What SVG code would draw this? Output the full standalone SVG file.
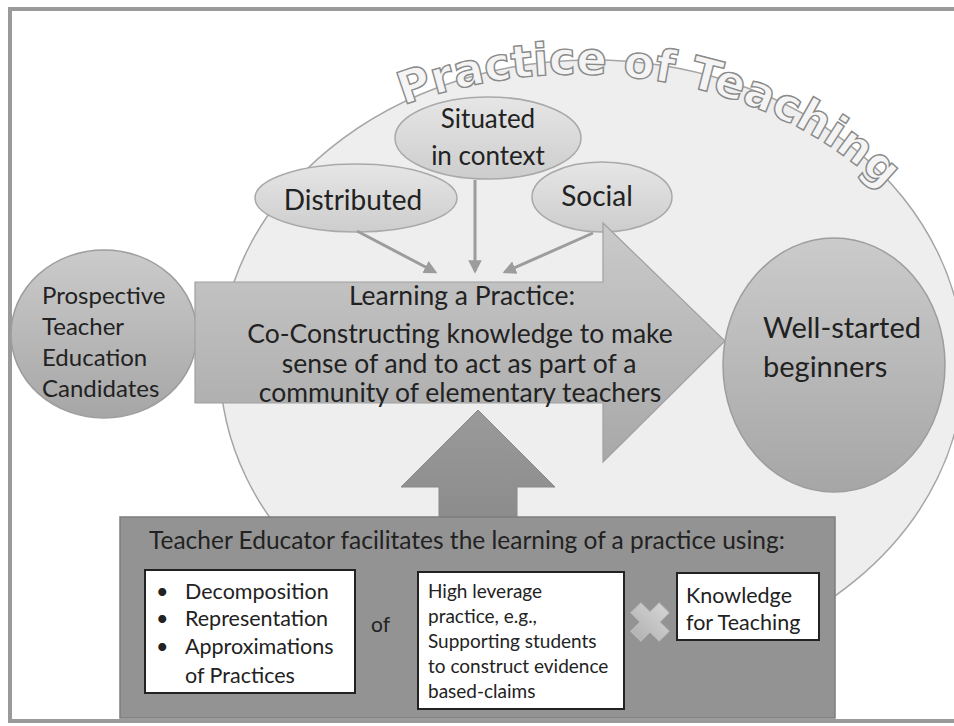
<svg xmlns="http://www.w3.org/2000/svg" width="954" height="726" viewBox="0 0 954 726">
<defs>
<style>
.t{font-family:Lato,"Liberation Sans",sans-serif;fill:#222;}
.conn{stroke:#9c9c9c;stroke-width:3;fill:none;}
.oval{stroke:#a9a9a9;stroke-width:1.5;}
.wbox{fill:#fff;stroke:#222;stroke-width:2;}
</style>
<linearGradient id="gOval" x1="0" y1="0" x2="0" y2="1"><stop offset="0" stop-color="#e6e6e6"/><stop offset="1" stop-color="#cdcdcd"/></linearGradient>
<linearGradient id="gCirc" x1="0" y1="0" x2="0" y2="1"><stop offset="0" stop-color="#cbcbcb"/><stop offset="1" stop-color="#a6a6a6"/></linearGradient>
<linearGradient id="gArrow" gradientUnits="userSpaceOnUse" x1="0" y1="222" x2="0" y2="462"><stop offset="0" stop-color="#cacaca"/><stop offset="1" stop-color="#a8a8a8"/></linearGradient>
<linearGradient id="gUp" x1="0" y1="0" x2="0" y2="1"><stop offset="0" stop-color="#9a9a9a"/><stop offset="1" stop-color="#8c8c8c"/></linearGradient>
<linearGradient id="gX" x1="0" y1="0" x2="0" y2="1"><stop offset="0" stop-color="#d2d2d2"/><stop offset="1" stop-color="#b4b4b4"/></linearGradient>
<marker id="ah" viewBox="0 0 10 10" refX="8" refY="5" markerWidth="4.5" markerHeight="4.5" orient="auto"><path d="M0,0 L10,5 L0,10 Z" fill="#9c9c9c"/></marker>
<path id="arcT" d="M402,106 A390,300 0 0 1 914,224"/>
</defs>

<rect x="10" y="9" width="960" height="712" fill="#fff" stroke="#9a9a9a" stroke-width="4"/>

<g id="practice-of-teaching">
<ellipse cx="592" cy="365" rx="372" ry="305" fill="#eeeeee" stroke="#a5a5a5" stroke-width="1.5"/>
<text font-family="'DejaVu Sans',sans-serif" font-weight="bold" font-size="45" fill="#f4f4f4" stroke="#8a8a8a" stroke-width="1.4"><textPath href="#arcT" startOffset="2">Practice of Teaching</textPath></text>
</g>

<g id="situated">
<ellipse class="oval" cx="488" cy="138" rx="93" ry="41" fill="url(#gOval)"/>
<text class="t" font-size="26" text-anchor="middle" x="488" y="128">Situated</text>
<text class="t" font-size="26" text-anchor="middle" x="488" y="165">in context</text>
</g>
<g id="distributed">
<ellipse class="oval" cx="356" cy="198" rx="101" ry="34" fill="url(#gOval)"/>
<text class="t" font-size="28" text-anchor="middle" x="353" y="210">Distributed</text>
</g>
<g id="social">
<ellipse class="oval" cx="602" cy="197" rx="70" ry="35" fill="url(#gOval)"/>
<text class="t" font-size="28" text-anchor="middle" x="597" y="206">Social</text>
</g>

<g id="connectors">
<line class="conn" x1="357" y1="231" x2="435" y2="272" marker-end="url(#ah)"/>
<line class="conn" x1="475" y1="180" x2="475" y2="271" marker-end="url(#ah)"/>
<line class="conn" x1="593" y1="233" x2="505" y2="272" marker-end="url(#ah)"/>
</g>

<g id="prospective">
<ellipse cx="104" cy="334" rx="93" ry="84" fill="url(#gCirc)" stroke="#9d9d9d" stroke-width="1.5"/>
<text class="t" font-size="24" x="42" y="304">Prospective</text>
<text class="t" font-size="24" x="42" y="335">Teacher</text>
<text class="t" font-size="24" x="42" y="366">Education</text>
<text class="t" font-size="24" x="42" y="397">Candidates</text>
</g>

<g id="learning">
<path d="M195,282 H603 V223 L725,341 L603,462 V403 H195 Z" fill="url(#gArrow)" stroke="#a0a0a0" stroke-width="1.2"/>
<text class="t" font-size="26.5" text-anchor="middle" x="462" y="305">Learning a Practice:</text>
<text class="t" font-size="26.5" text-anchor="middle" x="460" y="343">Co-Constructing knowledge to make</text>
<text class="t" font-size="26.5" text-anchor="middle" x="459" y="373">sense of and to act as part of a</text>
<text class="t" font-size="26.5" text-anchor="middle" x="460" y="402">community of elementary teachers</text>
</g>

<g id="well-started">
<ellipse cx="834" cy="365" rx="111" ry="127" fill="url(#gCirc)" stroke="#9d9d9d" stroke-width="1.5"/>
<text class="t" font-size="29" x="763" y="338">Well-started</text>
<text class="t" font-size="29" x="763" y="377">beginners</text>
</g>

<g id="up-arrow">
<path d="M439,518 V487 H401 L478,410 L555,487 H517 V518 Z" fill="url(#gUp)" stroke="#888" stroke-width="1"/>
</g>

<g id="teacher-educator">
<rect x="120" y="517" width="715" height="201" fill="#939393" stroke="#7d7d7d" stroke-width="1.5"/>
<text class="t" font-size="24.5" x="149" y="549">Teacher Educator facilitates the learning of a practice using:</text>
</g>

<g id="methods">
<rect class="wbox" x="145" y="570" width="210" height="123"/>
<text class="t" font-size="21.5"><tspan x="156" y="599">•</tspan><tspan x="185" y="599">Decomposition</tspan><tspan x="156" y="626">•</tspan><tspan x="185" y="626">Representation</tspan><tspan x="156" y="654">•</tspan><tspan x="185" y="654">Approximations</tspan><tspan x="185" y="683">of Practices</tspan></text>
</g>

<g id="of-label">
<text class="t" font-size="21" x="371" y="632">of</text>
</g>

<g id="high-leverage">
<rect class="wbox" x="418" y="572" width="206" height="137"/>
<text class="t" font-size="19"><tspan x="428" y="598">High leverage</tspan><tspan x="428" y="623">practice, e.g.,</tspan><tspan x="428" y="648">Supporting students</tspan><tspan x="428" y="673">to construct evidence</tspan><tspan x="428" y="698">based-claims</tspan></text>
</g>

<g id="times">
<path transform="translate(650,622) rotate(45)" d="M-7,-20 H7 V-7 H20 V7 H7 V20 H-7 V7 H-20 V-7 H-7 Z" fill="url(#gX)" stroke="#bdbdbd" stroke-width="1"/>
</g>

<g id="knowledge">
<rect class="wbox" x="677" y="573" width="142" height="67"/>
<text class="t" font-size="21.5"><tspan x="686" y="603">Knowledge</tspan><tspan x="686" y="630">for Teaching</tspan></text>
</g>
</svg>
